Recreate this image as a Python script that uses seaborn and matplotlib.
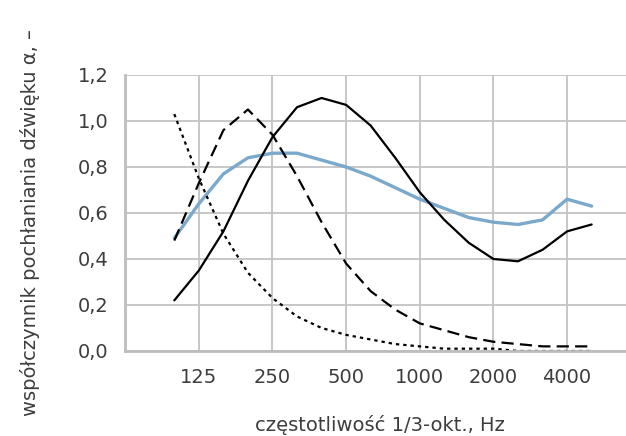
import numpy as np
import pandas as pd
import matplotlib
matplotlib.use("Agg")
import matplotlib.pyplot as plt
import seaborn as sns
from matplotlib.ticker import FuncFormatter

# 1/3-octave band centre frequencies, Hz
freqs = [100, 125, 160, 200, 250, 315, 400, 500, 630, 800,
         1000, 1250, 1600, 2000, 2500, 3150, 4000, 5000]
tick_labels = ["125", "250", "500", "1000", "2000", "4000"]

solid_black = [0.22, 0.35, 0.52, 0.74, 0.93, 1.06, 1.10, 1.07, 0.98, 0.84,
               0.69, 0.57, 0.47, 0.40, 0.39, 0.44, 0.52, 0.55]
blue = [0.49, 0.64, 0.77, 0.84, 0.86, 0.86, 0.83, 0.80, 0.76, 0.71,
        0.66, 0.62, 0.58, 0.56, 0.55, 0.57, 0.66, 0.63]
dashed = [0.48, 0.73, 0.96, 1.05, 0.94, 0.76, 0.56, 0.38, 0.26, 0.18,
          0.12, 0.09, 0.06, 0.04, 0.03, 0.02, 0.02, 0.02]
dotted = [1.03, 0.75, 0.51, 0.34, 0.23, 0.15, 0.10, 0.07, 0.05, 0.03,
          0.02, 0.01, 0.01, 0.01, 0.00, 0.00, 0.00, 0.00]

sns.set_theme(style="white")
plt.rcParams['font.family'] = ['DejaVu Sans']

fig = plt.figure(figsize=(6.26, 4.36), dpi=100)
ax = fig.add_axes([0.2, 0.195, 0.8, 0.633])

idx = np.arange(len(freqs))
series = [
    (blue, "#7aa9cb", 2.4, "-"),
    (solid_black, "black", 1.6, "-"),
    (dashed, "black", 1.6, (0, (5.5, 2.8))),
    (dotted, "black", 1.6, (0, (1.5, 1.8))),
]
for vals, col, lw, ls in series:
    sns.lineplot(x=idx, y=vals, ax=ax, color=col, linewidth=lw, linestyle=ls)

ax.set_xlim(-2, 18.4)
ax.set_ylim(0, 1.2)
ax.set_yticks(np.arange(0, 1.21, 0.2))
ax.yaxis.set_major_formatter(FuncFormatter(lambda v, p: f"{v:.1f}".replace(".", ",")))
tick_pos = [freqs.index(int(t)) for t in tick_labels]
ax.set_xticks(tick_pos)
ax.set_xticklabels(tick_labels)

ax.grid(True, color="#c3c3c3", linewidth=1.3)
ax.set_axisbelow(True)
for s in ["top", "right"]:
    ax.spines[s].set_visible(False)
for s in ["left", "bottom"]:
    ax.spines[s].set_color("#bdbdbd")
    ax.spines[s].set_linewidth(2)
txt_col = "#3d3d3d"
ax.tick_params(axis="both", length=0, labelsize=14, colors=txt_col)
ax.tick_params(axis="x", pad=12)
ax.tick_params(axis="y", pad=12)

ax.set_xlabel("częstotliwość 1/3-okt., Hz", fontsize=14, color=txt_col)
ax.set_ylabel("współczynnik pochłaniania dźwięku α, –", fontsize=14, color=txt_col)
ax.xaxis.label.set_va("center")
ax.yaxis.label.set_va("center")
ax.xaxis.set_label_coords(0.509, -0.268)
ax.yaxis.set_label_coords(-0.19, 0.464)

fig.savefig("out.png", dpi=100)
